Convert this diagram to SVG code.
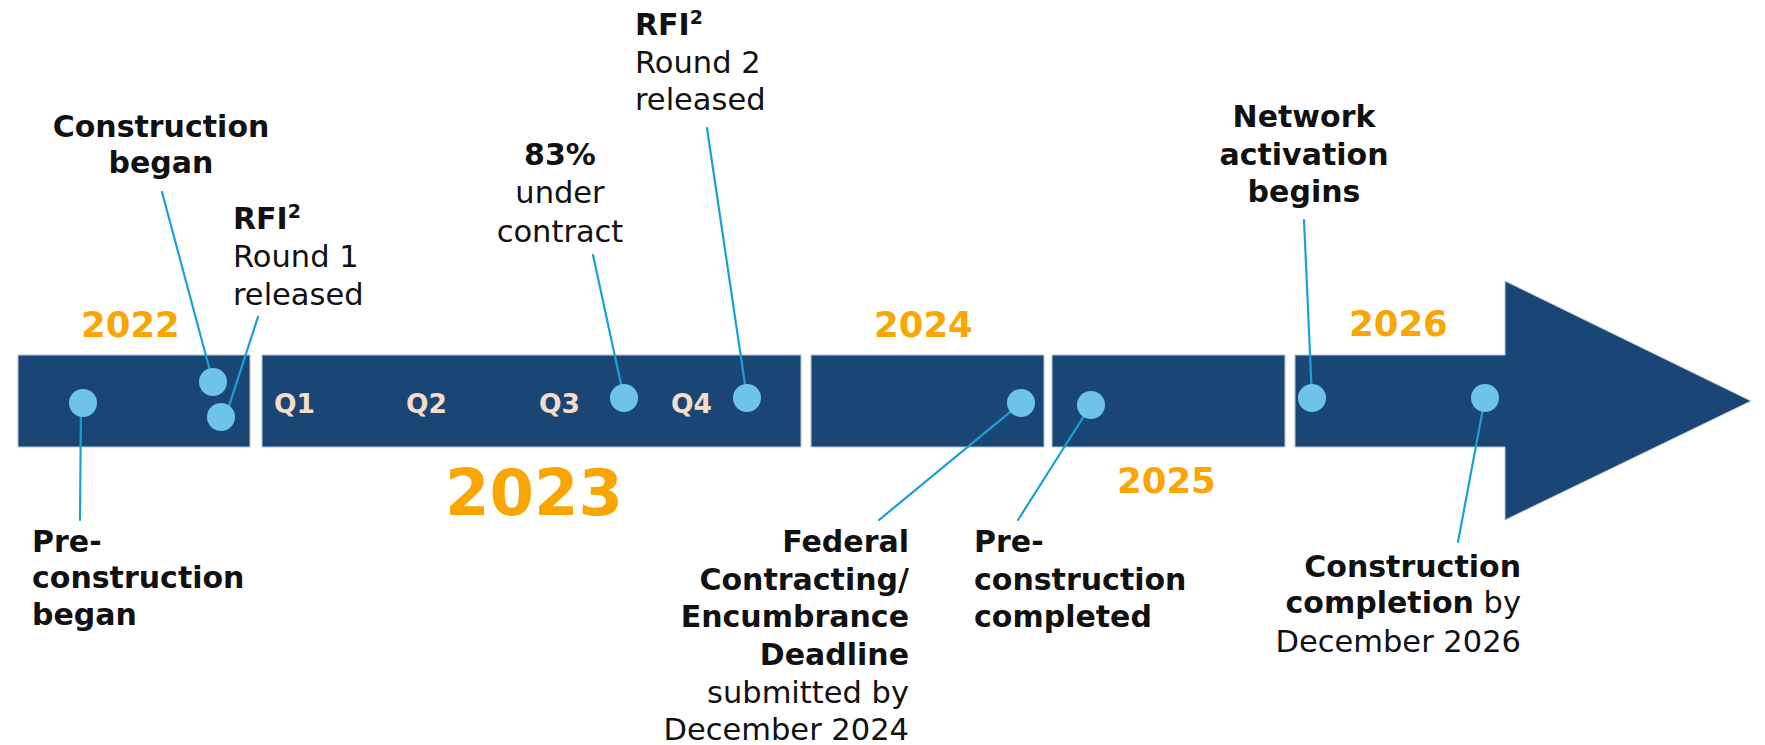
<svg xmlns="http://www.w3.org/2000/svg" width="1765" height="745" viewBox="0 0 1765 745">
<style>
.bar{fill:#1a4675;stroke:#b9c6d6;stroke-width:1}
.dot{fill:#6ec3ea}
.ln{stroke:#1aa0d8;stroke-width:2.2;fill:none;stroke-linecap:round}
text{font-family:"DejaVu Sans","Liberation Sans",sans-serif;fill:#111}
.b{font-weight:bold;font-size:30px}
.r{font-weight:normal;font-size:30.5px}
.yr{font-weight:bold;font-size:35.5px;fill:#f9a602}
.q{font-weight:bold;font-size:26.5px;fill:#f7dcc9}
.sup{font-size:19px}
</style>
<rect width="1765" height="745" fill="#ffffff"/>
<g id="timeline">
<rect class="bar" x="18" y="355" width="232" height="92"/>
<rect class="bar" x="262" y="355" width="539" height="92"/>
<rect class="bar" x="811" y="355" width="233" height="92"/>
<rect class="bar" x="1052" y="355" width="233" height="92"/>
<path class="bar" d="M1295 355 H1505 V281 L1751 401 L1505 520 V447 H1295 Z"/>
</g>
<g id="years">
<text class="yr" x="81" y="337">2022</text>
<text class="yr" x="445" y="515" style="font-size:64px">2023</text>
<text class="yr" x="874" y="337">2024</text>
<text class="yr" x="1117" y="493">2025</text>
<text class="yr" x="1349" y="336">2026</text>
</g>
<g id="quarters">
<text class="q" x="274" y="413">Q1</text>
<text class="q" x="406" y="413">Q2</text>
<text class="q" x="539" y="413">Q3</text>
<text class="q" x="671" y="413">Q4</text>
</g>
<g id="connectors">
<line class="ln" x1="81" y1="403" x2="80" y2="520"/>
<line class="ln" x1="162" y1="192" x2="213" y2="382"/>
<line class="ln" x1="258" y1="317" x2="227" y2="412"/>
<line class="ln" x1="593" y1="255" x2="624" y2="398"/>
<line class="ln" x1="707" y1="128" x2="747" y2="398"/>
<line class="ln" x1="879" y1="520" x2="1021" y2="403"/>
<line class="ln" x1="1018" y1="520" x2="1091" y2="405"/>
<line class="ln" x1="1304" y1="220" x2="1312" y2="398"/>
<line class="ln" x1="1458" y1="542" x2="1485" y2="398"/>
</g>
<g id="dots">
<circle class="dot" cx="83" cy="403" r="14"/>
<circle class="dot" cx="213" cy="382" r="14"/>
<circle class="dot" cx="221" cy="417" r="14"/>
<circle class="dot" cx="624" cy="398" r="14"/>
<circle class="dot" cx="747" cy="398" r="14"/>
<circle class="dot" cx="1021" cy="403" r="14"/>
<circle class="dot" cx="1091" cy="405" r="14"/>
<circle class="dot" cx="1312" cy="398" r="14"/>
<circle class="dot" cx="1485" cy="398" r="14"/>
</g>
<g id="pre-construction-began">
<text class="b" x="32" y="552">Pre-</text>
<text class="b" x="32" y="588">construction</text>
<text class="b" x="32" y="625">began</text>
</g>
<g id="construction-began">
<text class="b" x="161" y="137" text-anchor="middle">Construction</text>
<text class="b" x="161" y="173" text-anchor="middle">began</text>
</g>
<g id="rfi-round1">
<text class="b" x="233" y="229">RFI<tspan class="sup" dy="-11">2</tspan></text>
<text class="r" x="233" y="267">Round 1</text>
<text class="r" x="233" y="305">released</text>
</g>
<g id="under-contract">
<text class="b" x="560" y="165" text-anchor="middle">83%</text>
<text class="r" x="560" y="203" text-anchor="middle">under</text>
<text class="r" x="560" y="242" text-anchor="middle">contract</text>
</g>
<g id="rfi-round2">
<text class="b" x="635" y="35">RFI<tspan class="sup" dy="-11">2</tspan></text>
<text class="r" x="635" y="73">Round 2</text>
<text class="r" x="635" y="110">released</text>
</g>
<g id="federal-deadline">
<text class="b" x="909" y="552" text-anchor="end">Federal</text>
<text class="b" x="909" y="590" text-anchor="end">Contracting/</text>
<text class="b" x="909" y="627" text-anchor="end">Encumbrance</text>
<text class="b" x="909" y="665" text-anchor="end">Deadline</text>
<text class="r" x="909" y="703" text-anchor="end">submitted by</text>
<text class="r" x="909" y="740" text-anchor="end">December 2024</text>
</g>
<g id="pre-construction-completed">
<text class="b" x="974" y="552">Pre-</text>
<text class="b" x="974" y="590">construction</text>
<text class="b" x="974" y="627">completed</text>
</g>
<g id="network-activation">
<text class="b" x="1304" y="127" text-anchor="middle">Network</text>
<text class="b" x="1304" y="165" text-anchor="middle">activation</text>
<text class="b" x="1304" y="202" text-anchor="middle">begins</text>
</g>
<g id="construction-completion">
<text class="b" x="1521" y="577" text-anchor="end">Construction</text>
<text class="b" x="1521" y="613" text-anchor="end">completion<tspan class="r"> by</tspan></text>
<text class="r" x="1521" y="652" text-anchor="end">December 2026</text>
</g>
</svg>
